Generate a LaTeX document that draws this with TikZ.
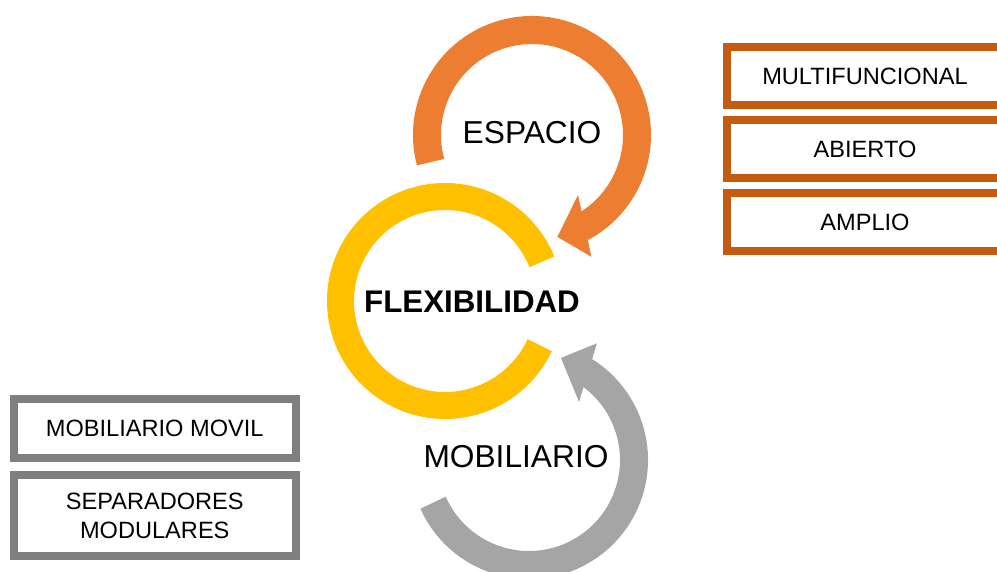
\documentclass[tikz,border=0pt]{standalone}
\usepackage{fontspec}
\setmainfont{Liberation Sans}
\usepackage{xcolor}
\definecolor{Pumpkin}{HTML}{ED7D31}
\definecolor{Amber}{HTML}{FFC000}
\definecolor{Silver}{HTML}{A5A5A5}
\definecolor{Rust}{HTML}{C55A11}
\definecolor{Slate}{HTML}{7F7F7F}
\colorlet{c0}{Pumpkin}
\colorlet{c1}{Amber}
\colorlet{c2}{Silver}
\colorlet{c3}{Rust}
\colorlet{c4}{Slate}
\usepackage{tikz}
\usetikzlibrary{calc, positioning}
\tikzset{
	node distance = 16pt,
	ring/.style={
		draw=#1,
		line width=28pt
	},
	sidebox/.style={
		draw=#1,
		line width=8pt,
		outer sep=0pt,
		inner sep=0pt,
		align=center,
		font=\fontsize{23.6}{29}\selectfont
	},
	bigtext/.style={
		font=\fontsize{31.7}{37}\selectfont
	}
}

\begin{document}
\begin{tikzpicture}[x=1pt, y=1pt]
\useasboundingbox (0,0) rectangle (997,572);
\clip (0,0) rectangle (997,572);

% ---
% centre ring
% ---
\coordinate (flex-c) at (445,271);
\draw[ring=c1, line width=27pt] (flex-c) ++(22:104.5) arc[start angle=22, end angle=335, radius=104.5];
\node[font=\bfseries\fontsize{31.3}{37}\selectfont] (flex) at (472,270) {FLEXIBILIDAD};

% ---
% espacio arrow
% ---
\coordinate (esp-c) at (532,437);
\draw[ring=c0] (esp-c) ++(195:105) arc[start angle=195, end angle=-62, radius=105];
\fill[c0] ($(esp-c)+(-52.5:75.6)$) -- ($(esp-c)+(-64:135.5)$) -- ($(esp-c)+(-76:105)$) -- cycle;
\node[bigtext] (esp) at (532,439) {ESPACIO};

\node[sidebox=c3, minimum width=276pt, minimum height=57.5pt] at (865,496) (esp-1) {MULTIFUNCIONAL};
\node[sidebox=c3, minimum width=276pt, minimum height=57.5pt, below=15.5pt of esp-1] (esp-2) {ABIERTO};
\node[sidebox=c3, minimum width=276pt, minimum height=57.5pt, below=15.5pt of esp-2] (esp-3) {AMPLIO};

% ---
% mobiliario arrow
% ---
\coordinate (mob-c) at (529,112);
\draw[ring=c2] (mob-c) ++(204:105) arc[start angle=204, end angle=419, radius=105];
\fill[c2] ($(mob-c)+(49.2:76.6)$) -- ($(mob-c)+(59.8:135)$) -- ($(mob-c)+(72.6:107)$) -- cycle;
\node[bigtext] (mob) at (516,115) {MOBILIARIO};

\node[sidebox=c4, minimum width=281.5pt, minimum height=59pt] at (154.75,143.5) (mob-1) {MOBILIARIO MOVIL};
\node[sidebox=c4, minimum width=281.5pt, minimum height=81pt, below=17pt of mob-1] (mob-2) {SEPARADORES\\MODULARES};
\end{tikzpicture}
\end{document}
